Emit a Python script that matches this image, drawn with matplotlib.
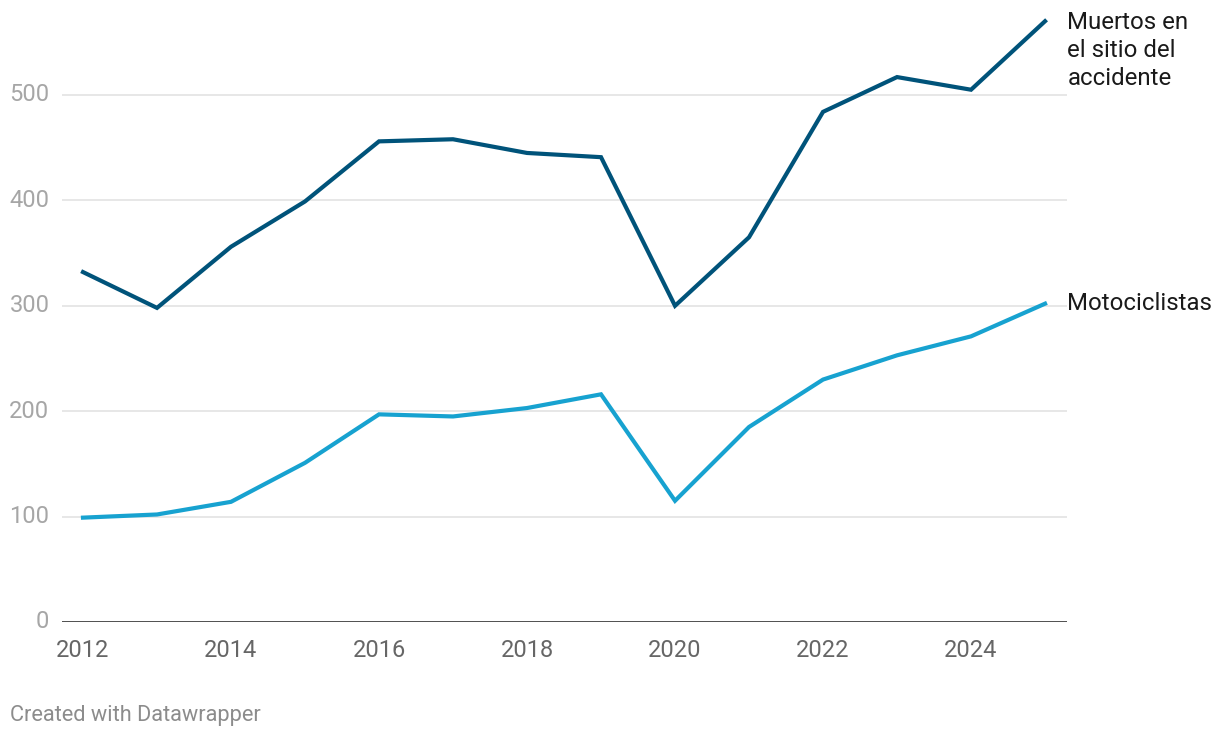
import matplotlib
matplotlib.use("Agg")
import matplotlib.pyplot as plt

# Data
years = list(range(2012, 2026))
muertos_sitio = [332, 298, 356, 399, 456, 458, 445, 441, 300, 365, 484, 517, 505, 570]
motociclistas = [99, 102, 114, 151, 197, 195, 203, 216, 115, 185, 230, 253, 271, 302]

y_ticks = [0, 100, 200, 300, 400, 500]
x_ticks = [2012, 2014, 2016, 2018, 2020, 2022, 2024]

DARK = "#00537a"
LIGHT = "#17a2d0"

plt.rcParams['font.family'] = ['Roboto', 'DejaVu Sans']

fig = plt.figure(figsize=(12.2, 7.38), dpi=100)
ax = fig.add_axes([0.0508, 0.1572, 0.8238, 0.8292])

ax.plot(years, muertos_sitio, color=DARK, lw=3, solid_joinstyle="miter", zorder=3)
ax.plot(years, motociclistas, color=LIGHT, lw=3, solid_joinstyle="miter", zorder=3)

ax.set_xlim(2011.716, 2025.297)
ax.set_ylim(0, 580.6)

# grid and axes
for v in y_ticks[1:]:
    ax.axhline(v, color="#e3e3e3", lw=1.2, zorder=1)
ax.axhline(0, color="#1a1a1a", lw=1.8, zorder=2)
for s in ax.spines.values():
    s.set_visible(False)

ax.set_yticks(y_ticks)
ax.set_yticklabels([str(v) for v in y_ticks])
ax.set_xticks(x_ticks)
ax.set_xticklabels([str(v) for v in x_ticks])
ax.tick_params(axis="y", length=0, pad=9, labelsize=17, labelcolor="#a6a6a6")
ax.tick_params(axis="x", length=0, pad=12, labelsize=17, labelcolor="#666666")
for lbl in ax.get_yticklabels():
    lbl.set_verticalalignment("center")

# direct labels at line ends
ax.annotate("Muertos en\nel sitio del\naccidente", xy=(years[-1], muertos_sitio[-1]),
            xytext=(16, 7), textcoords="offset points", ha="left", va="top",
            fontsize=17.3, color="#1a1a1a", linespacing=1.26, annotation_clip=False)
ax.annotate("Motociclistas", xy=(years[-1], motociclistas[-1]),
            xytext=(15.5, 0), textcoords="offset points", ha="left", va="center",
            fontsize=17.3, color="#1a1a1a", annotation_clip=False)

fig.text(10 / 1220, 1 - 715 / 738, "Created with Datawrapper", ha="left", va="center",
         fontsize=15.7, color="#8c8c8c")

fig.savefig("out.png", dpi=100)
